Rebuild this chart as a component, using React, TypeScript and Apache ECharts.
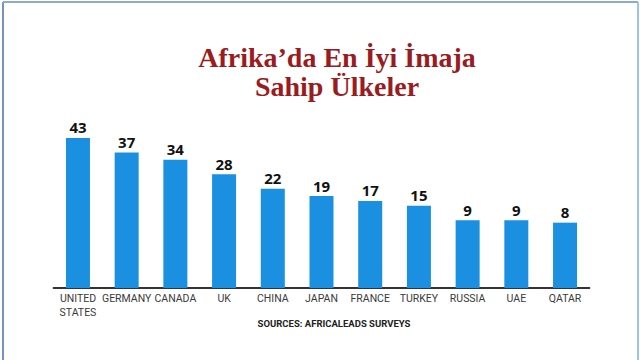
import React, { useEffect, useRef } from "react";
import * as echarts from "echarts";

const categories = [
  "UNITED\nSTATES",
  "GERMANY",
  "CANADA",
  "UK",
  "CHINA",
  "JAPAN",
  "FRANCE",
  "TURKEY",
  "RUSSIA",
  "UAE",
  "QATAR",
];
const scores = [43, 37, 34, 28, 22, 19, 17, 15, 9, 9, 8];
const titleLines = ["Afrika’da En İyi İmaja", "Sahip Ülkeler"];
const sourceText = "SOURCES: AFRICALEADS SURVEYS";

// visual offset so bars keep the infographic's non-zero visual baseline
const BAR_BASE_OFFSET = 19;

export default function App() {
  const ref = useRef<HTMLDivElement>(null);
  useEffect(() => {
    if (!ref.current) return;
    const chart = echarts.init(ref.current, null, { renderer: "svg" });
    chart.setOption({
      animation: false,
      backgroundColor: "#ffffff",
      grid: { left: 53.6, right: 50.6, top: 118.6, bottom: 72, containLabel: false },
      xAxis: {
        type: "category",
        data: categories,
        axisLine: { show: true, lineStyle: { color: "#333333", width: 2 } },
        axisTick: { show: false },
        axisLabel: {
          interval: 0,
          margin: 3,
          fontFamily: "Roboto",
          fontSize: 10.5,
          lineHeight: 14,
          color: "#3a3a3a",
          align: "center",
        },
      },
      yAxis: {
        type: "value",
        min: 0,
        max: 70,
        show: false,
        splitLine: { show: false },
      },
      series: [
        {
          type: "bar",
          stack: "total",
          silent: true,
          barWidth: 24,
          data: categories.map(() => BAR_BASE_OFFSET),
          itemStyle: { color: "#1b8fe0" },
        },
        {
          type: "bar",
          stack: "total",
          barWidth: 24,
          data: scores,
          itemStyle: { color: "#1b8fe0" },
          label: {
            show: true,
            position: "top",
            distance: 3,
            formatter: "{c}",
            fontFamily: "Open Sans",
            fontWeight: "bold",
            fontSize: 15,
            color: "#111111",
          },
        },
      ],
      graphic: [
        {
          type: "text",
          x: 337,
          y: 43,
          style: {
            text: titleLines.join("\n"),
            fontFamily: "Liberation Serif",
            fontWeight: "bold",
            fontSize: 28,
            lineHeight: 29,
            fill: "#9b1c20",
            textAlign: "center",
            textVerticalAlign: "top",
          },
        },
        {
          type: "text",
          x: 334,
          y: 323,
          style: {
            text: sourceText,
            fontFamily: "Roboto",
            fontWeight: "bold",
            fontSize: 9.5,
            fill: "#222222",
            textAlign: "center",
            textVerticalAlign: "middle",
          },
        },
        {
          type: "line",
          shape: { x1: 3, y1: 2, x2: 3, y2: 360 },
          style: { stroke: "#7393b8", lineWidth: 2 },
        },
        {
          type: "line",
          shape: { x1: 3, y1: 2, x2: 638, y2: 2 },
          style: { stroke: "#8eaacb", lineWidth: 2 },
        },
        {
          type: "line",
          shape: { x1: 638, y1: 2, x2: 638, y2: 360 },
          style: { stroke: "#9cc4ea", lineWidth: 2 },
        },
      ],
    });
    return () => chart.dispose();
  }, []);
  return <div ref={ref} style={{ width: 640, height: 360, position: "fixed", left: 0, top: 0 }} />;
}
